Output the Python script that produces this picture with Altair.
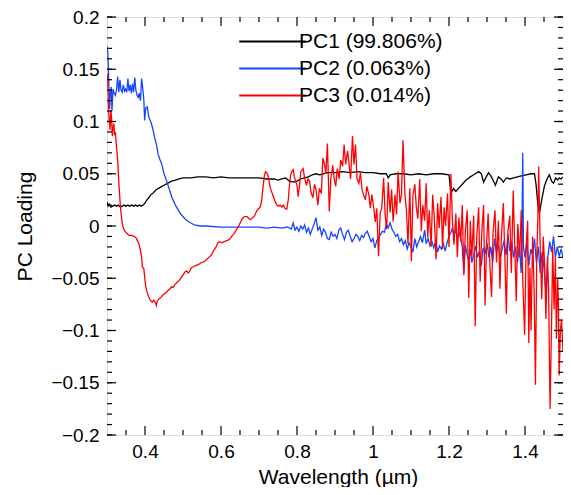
import altair as alt
import pandas as pd

FONT = "Liberation Sans"

# ---------------- data ----------------
names = ["PC1 (99.806%)", "PC2 (0.063%)", "PC3 (0.014%)"]
colors = ["#000000", "#1446ff", "#ff0000"]

w1 = [0.300,0.303,0.306,0.310,0.315,0.320,0.325,0.330,0.335,0.340,0.345,0.350,0.355,0.360,0.365,0.370,0.375,0.380,0.385,0.390,
      0.395,0.400,0.405,0.410,0.415,0.420,0.425,0.430,0.440,0.450,0.460,0.470,0.480,0.490,0.500,0.520,0.540,0.560,0.580,0.600,
      0.620,0.640,0.660,0.680,0.700,0.720,0.740,0.750,0.760,0.770,0.780,0.790,0.800,0.810,0.820,0.830,0.840,0.850,0.860,0.880,
      0.900,0.920,0.940,0.960,0.980,1.000,1.020,1.035,1.040,1.045,1.060,1.080,1.100,1.120,1.140,1.160,1.180,1.200,1.205,1.212,
      1.218,1.225,1.235,1.245,1.256,1.265,1.278,1.285,1.291,1.298,1.304,1.310,1.317,1.322,1.330,1.337,1.343,1.351,1.360,1.370,
      1.380,1.390,1.403,1.415,1.425,1.429,1.434,1.438,1.444,1.451,1.458,1.464,1.470,1.475,1.481,1.486,1.490,1.495,1.500]
v1 = [0.023,0.019,0.021,0.018,0.019,0.020,0.019,0.020,0.018,0.019,0.020,0.019,0.020,0.019,0.020,0.019,0.020,0.019,0.020,0.019,
      0.020,0.022,0.025,0.027,0.030,0.031,0.033,0.035,0.037,0.039,0.041,0.043,0.044,0.045,0.046,0.046,0.047,0.047,0.046,0.047,
      0.046,0.046,0.046,0.046,0.046,0.045,0.045,0.044,0.045,0.046,0.043,0.042,0.043,0.045,0.046,0.047,0.049,0.050,0.049,0.051,
      0.051,0.052,0.051,0.052,0.051,0.051,0.050,0.050,0.046,0.049,0.050,0.050,0.049,0.050,0.049,0.050,0.050,0.049,0.031,0.036,
      0.033,0.036,0.040,0.044,0.047,0.049,0.052,0.050,0.042,0.047,0.051,0.048,0.043,0.039,0.047,0.045,0.042,0.046,0.045,0.046,
      0.047,0.048,0.049,0.050,0.050,0.040,0.020,0.012,0.025,0.038,0.045,0.049,0.043,0.041,0.046,0.044,0.046,0.045,0.047]

w2 = [0.300,0.3025,0.3045,0.307,0.309,0.3115,0.313,0.316,0.319,0.322,0.325,0.328,0.331,0.334,0.337,0.340,0.343,0.346,0.349,0.352,
      0.355,0.358,0.361,0.364,0.367,0.370,0.373,0.376,0.379,0.382,0.385,0.388,0.391,0.394,0.397,0.399,0.402,0.406,0.410,0.415,
      0.420,0.425,0.430,0.435,0.440,0.445,0.450,0.458,0.465,0.470,0.480,0.488,0.495,0.505,0.515,0.530,0.545,0.560,0.600,0.650,
      0.700,0.720,0.740,0.760,0.775,0.785,0.790,0.795,0.800,0.805,0.810,0.815,0.820,0.825,0.830,0.835,0.840,0.845,0.850,0.855,
      0.860,0.865,0.870,0.875,0.880,0.885,0.890,0.895,0.900,0.905,0.910,0.915,0.920,0.925,0.930,0.935,0.940,0.945,0.950,0.955,
      0.960,0.965,0.970,0.975,0.980,0.985,0.990,0.995,1.000,1.005,1.010,1.015,1.020,1.025,1.030,1.035,1.040,1.045,1.050,1.055,
      1.060,1.065,1.070,1.075,1.080,1.085,1.090,1.095,1.100,1.105,1.110,1.115,1.120,1.125,1.130,1.136,1.140,1.145,1.150,1.155,
      1.160,1.165,1.170,1.175,1.180,1.185,1.190,1.195,1.200,1.205,1.209,1.213,1.218,1.222,1.227,1.231,1.235,1.239,1.243,1.248,
      1.252,1.256,1.260,1.265,1.270,1.275,1.280,1.285,1.290,1.295,1.300,1.305,1.310,1.315,1.320,1.325,1.330,1.335,1.340,1.345,
      1.350,1.355,1.360,1.365,1.370,1.375,1.380,1.385,1.390,1.392,1.394,1.396,1.400,1.405,1.410,1.415,1.420,1.425,1.430,1.435,
      1.440,1.445,1.450,1.455,1.460,1.465,1.470,1.475,1.480,1.485,1.490,1.495,1.500]
v2 = [0.172,0.165,0.140,0.112,0.128,0.133,0.110,0.131,0.127,0.125,0.130,0.143,0.128,0.140,0.130,0.128,0.135,0.129,0.131,0.128,
      0.141,0.129,0.135,0.127,0.136,0.128,0.142,0.130,0.125,0.123,0.127,0.120,0.141,0.132,0.120,0.101,0.113,0.114,0.104,0.100,
      0.094,0.085,0.078,0.068,0.063,0.058,0.050,0.042,0.034,0.028,0.020,0.015,0.011,0.007,0.004,0.001,0.000,0.000,-0.001,-0.001,
      -0.001,-0.002,-0.001,-0.002,-0.001,-0.003,0.003,-0.004,-0.001,-0.005,0.000,-0.003,0.001,-0.006,-0.002,-0.008,-0.003,0.002,0.008,-0.004,
      -0.001,-0.009,-0.003,-0.006,-0.012,-0.013,-0.006,-0.010,-0.008,-0.012,-0.004,-0.002,-0.008,-0.013,-0.006,-0.004,-0.010,-0.015,-0.012,-0.008,
      -0.010,-0.014,-0.009,-0.011,-0.007,-0.005,-0.010,-0.015,-0.012,-0.021,-0.014,-0.011,-0.008,-0.005,-0.006,0.002,-0.002,0.003,-0.003,-0.006,
      -0.010,-0.008,-0.015,-0.012,-0.018,-0.014,-0.022,-0.016,-0.020,-0.025,-0.012,-0.020,-0.015,-0.010,-0.016,-0.004,-0.017,-0.012,-0.019,-0.015,
      -0.021,-0.014,-0.025,-0.019,-0.022,-0.017,-0.024,-0.016,-0.010,-0.006,-0.002,-0.009,-0.004,-0.011,-0.007,-0.012,-0.020,-0.045,-0.018,-0.028,
      -0.033,-0.022,-0.035,-0.028,-0.019,-0.030,-0.024,-0.038,-0.021,-0.027,-0.016,-0.030,-0.020,-0.035,-0.012,-0.025,-0.018,-0.030,-0.022,-0.014,
      -0.028,-0.008,-0.024,-0.015,-0.030,-0.020,-0.035,-0.018,-0.045,-0.010,0.070,-0.020,-0.030,-0.015,-0.038,-0.022,-0.028,-0.012,-0.035,-0.020,
      -0.045,-0.025,-0.040,-0.064,-0.030,-0.015,-0.025,-0.010,-0.030,-0.020,-0.029,-0.022,-0.030]

w3 = [0.300,0.302,0.304,0.306,0.308,0.310,0.312,0.314,0.316,0.318,0.320,0.322,0.324,0.326,0.328,0.330,0.332,0.335,0.337,0.340,
      0.343,0.347,0.352,0.358,0.365,0.371,0.376,0.380,0.384,0.388,0.391,0.393,0.397,0.400,0.402,0.406,0.410,0.414,0.419,0.423,
      0.427,0.430,0.432,0.436,0.440,0.445,0.450,0.455,0.460,0.466,0.470,0.474,0.479,0.484,0.488,0.492,0.496,0.500,0.505,0.509,
      0.514,0.518,0.522,0.527,0.533,0.540,0.548,0.557,0.565,0.574,0.580,0.587,0.592,0.596,0.602,0.609,0.615,0.622,0.628,0.635,
      0.640,0.648,0.652,0.656,0.662,0.669,0.674,0.678,0.683,0.687,0.691,0.695,0.700,0.704,0.707,0.710,0.714,0.717,0.720,0.723,
      0.727,0.730,0.734,0.738,0.742,0.747,0.751,0.756,0.760,0.764,0.768,0.773,0.777,0.780,0.783,0.786,0.790,0.793,0.797,0.800,
      0.803,0.807,0.810,0.814,0.816,0.820,0.825,0.829,0.833,0.837,0.842,0.846,0.850,0.855,0.859,0.864,0.868,0.872,0.876,0.880,
      0.885,0.889,0.894,0.898,0.902,0.906,0.911,0.915,0.920,0.924,0.928,0.933,0.937,0.941,0.946,0.950,0.954,0.958,0.963,0.967,
      0.971,0.976,0.980,0.984,0.989,0.993,0.997,1.002,1.006,1.010,1.0145,1.019,1.023,1.028,1.032,1.036,1.040,1.045,1.049,1.053,
      1.058,1.062,1.066,1.071,1.075,1.079,1.084,1.088,1.092,1.097,1.101,1.105,1.110,1.114,1.118,1.123,1.127,1.131,1.136,1.140,
      1.144,1.148,1.153,1.157,1.161,1.166,1.170,1.174,1.179,1.183,1.187,1.191,1.196,1.200,1.205,1.209,1.213,1.218,1.222,1.226,
      1.231,1.235,1.239,1.243,1.248,1.252,1.256,1.260,1.265,1.269,1.273,1.278,1.282,1.286,1.291,1.295,1.299,1.303,1.308,1.312,
      1.316,1.321,1.325,1.330,1.334,1.338,1.343,1.347,1.351,1.355,1.360,1.364,1.369,1.373,1.377,1.381,1.386,1.390,1.394,1.399,
      1.403,1.407,1.410,1.413,1.416,1.420,1.424,1.4275,1.431,1.434,1.436,1.440,1.444,1.448,1.452,1.455,1.459,1.462,1.466,1.470,
      1.473,1.4766,1.480,1.4826,1.486,1.488,1.490,1.493,1.496,1.500]
v3 = [0.146,0.140,0.112,0.100,0.092,0.111,0.104,0.086,0.094,0.098,0.087,0.090,0.080,0.072,0.063,0.050,0.036,0.020,0.012,0.003,
      -0.002,-0.005,-0.007,-0.009,-0.009,-0.010,-0.011,-0.014,-0.017,-0.023,-0.030,-0.039,-0.041,-0.052,-0.058,-0.064,-0.068,-0.071,-0.073,-0.071,
      -0.073,-0.076,-0.072,-0.070,-0.069,-0.067,-0.065,-0.064,-0.062,-0.060,-0.058,-0.059,-0.056,-0.054,-0.053,-0.051,-0.049,-0.047,-0.044,-0.043,
      -0.045,-0.043,-0.040,-0.039,-0.038,-0.037,-0.035,-0.034,-0.031,-0.028,-0.024,-0.020,-0.016,-0.015,-0.016,-0.015,-0.014,-0.013,-0.010,-0.007,
      -0.004,0.001,0.004,0.007,0.009,0.009,0.007,0.006,0.008,0.009,0.012,0.015,0.017,0.019,0.025,0.035,0.048,0.052,0.051,0.049,
      0.042,0.036,0.032,0.028,0.024,0.020,0.019,0.020,0.018,0.020,0.017,0.016,0.025,0.038,0.048,0.052,0.054,0.047,0.042,0.039,
      0.028,0.040,0.052,0.054,0.055,0.046,0.039,0.045,0.043,0.032,0.027,0.040,0.035,0.020,0.036,0.031,0.065,0.060,0.050,0.079,
      0.014,0.045,0.058,0.045,0.038,0.055,0.045,0.063,0.057,0.078,0.059,0.072,0.059,0.045,0.086,0.059,0.078,0.045,0.041,0.051,
      0.035,0.029,0.025,0.038,0.030,0.017,0.030,0.017,0.004,0.017,-0.029,0.013,0.017,0.046,0.010,-0.003,0.042,0.013,0.035,0.004,
      0.030,0.011,0.052,0.022,0.030,0.082,0.030,0.015,-0.017,0.036,-0.034,0.029,0.040,0.018,0.007,0.045,-0.005,0.020,0.005,0.041,
      -0.011,0.015,-0.020,0.030,0.010,-0.032,0.022,-0.002,0.028,-0.022,0.018,0.000,0.031,-0.020,0.050,0.005,-0.018,0.012,-0.030,0.008,
      -0.015,0.020,-0.047,-0.005,0.015,-0.069,0.005,-0.030,0.010,-0.096,-0.010,0.018,-0.053,-0.008,0.020,-0.076,-0.015,0.012,-0.040,-0.068,
      -0.005,0.015,-0.035,0.005,-0.060,-0.010,0.022,-0.030,-0.084,-0.005,0.010,-0.045,0.034,-0.020,-0.072,0.002,-0.030,0.015,-0.050,-0.104,
      -0.020,0.005,-0.112,-0.040,-0.100,-0.010,-0.060,-0.152,-0.030,0.010,0.057,-0.020,-0.070,-0.010,-0.040,-0.089,-0.030,-0.060,-0.175,-0.090,
      -0.020,-0.080,-0.030,-0.108,-0.050,-0.075,-0.143,-0.100,-0.090,-0.120]

x_tick_values = [0.4, 0.6, 0.8, 1.0, 1.2, 1.4]
y_tick_values = [-0.2, -0.15, -0.1, -0.05, 0.0, 0.05, 0.1, 0.15, 0.2]
x_minor_values = [0.35, 0.45, 0.5, 0.55, 0.65, 0.7, 0.75, 0.85, 0.9, 0.95, 1.05, 1.1, 1.15, 1.25, 1.3, 1.35, 1.45]
y_minor_values = [round(-0.2 + 0.01 * i, 2) for i in range(41)]

# ---------------- build ----------------
rows = []
for name, ws, vs in zip(names, [w1, w2, w3], [v1, v2, v3]):
    for i, (w, v) in enumerate(zip(ws, vs)):
        rows.append({"series": name, "order": i, "w": w, "v": v})
df = pd.DataFrame(rows)

W, H = 456, 418
xs = alt.Scale(domain=[0.3, 1.5], nice=False, zero=False)
ys = alt.Scale(domain=[-0.2, 0.2], nice=False, zero=False)

lines = alt.Chart(df).mark_line(strokeWidth=1.3, clip=True).encode(
    x=alt.X("w:Q", scale=xs,
            axis=alt.Axis(values=x_tick_values, format="~g", ticks=False, tickSize=0, domain=False, grid=False,
                          labelFont=FONT, labelFontSize=19, labelColor="black", labelPadding=7,
                          title="Wavelength (µm)", titleFont=FONT, titleFontSize=21, titleFontWeight="normal",
                          titleColor="black", titleX=231, titleY=48, titleBaseline="alphabetic", titleAlign="center")),
    y=alt.Y("v:Q", scale=ys,
            axis=alt.Axis(values=y_tick_values, format="~g", ticks=False, tickSize=0, domain=False, grid=False,
                          labelFont=FONT, labelFontSize=19, labelColor="black", labelPadding=8,
                          title="PC Loading", titleFont=FONT, titleFontSize=21, titleFontWeight="normal",
                          titleColor="black", titleAngle=270, titleX=-82, titleY=209, titleBaseline="middle",
                          titleAlign="center")),
    color=alt.Color("series:N", scale=alt.Scale(domain=names, range=colors),
                    legend=alt.Legend(title=None, orient="none", legendX=155, legendY=14,
                                      symbolType="M-6.05,0H6.05", symbolSize=121, symbolStrokeWidth=2,
                                      labelFont=FONT, labelFontSize=21, labelColor="black",
                                      labelOffset=16, rowPadding=5)),
    order="order:Q",
    detail="series:N",
)


def tick_layer(vals, channel, length, side):
    d = pd.DataFrame({"t": vals})
    base = alt.Chart(d).mark_rule(color="black", strokeWidth=1.2)
    if channel == "x":
        enc = dict(x=alt.X("t:Q", scale=xs))
        if side == "bottom":
            enc.update(y=alt.value(H), y2=alt.value(H - length))
        else:
            enc.update(y=alt.value(0), y2=alt.value(length))
    else:
        enc = dict(y=alt.Y("t:Q", scale=ys))
        if side == "left":
            enc.update(x=alt.value(0), x2=alt.value(length))
        else:
            enc.update(x=alt.value(W), x2=alt.value(W - length))
    return base.encode(**enc)


ticks = [
    tick_layer(x_tick_values, "x", 9, "bottom"),
    tick_layer(x_tick_values, "x", 9, "top"),
    tick_layer(x_minor_values, "x", 5, "bottom"),
    tick_layer(x_minor_values, "x", 5, "top"),
    tick_layer(y_tick_values, "y", 9, "left"),
    tick_layer(y_tick_values, "y", 9, "right"),
    tick_layer(y_minor_values, "y", 5, "left"),
    tick_layer(y_minor_values, "y", 5, "right"),
]

chart = alt.layer(lines, *ticks).properties(
    width=W, height=H,
    autosize=alt.AutoSizeParams(type="none"),
    padding={"left": 99, "top": 9, "right": 0, "bottom": 52},
).configure_view(stroke="black", strokeWidth=1.5).configure(background="white")

chart.save("out.html", embed_options={"renderer": "svg", "actions": False})
